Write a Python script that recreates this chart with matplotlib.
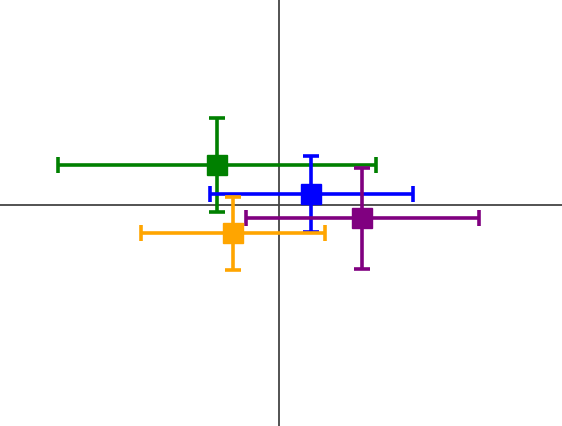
import matplotlib
matplotlib.use('Agg')
import matplotlib.pyplot as plt

# Point positions and symmetric errors (arbitrary units, origin at axis crossing)
colors = ['green', 'blue', 'purple', 'orange']
x_vals = [-0.615, 0.325, 0.835, -0.455]
y_vals = [0.395, 0.105, -0.135, -0.285]
x_err = [1.59, 1.015, 1.165, 0.92]
y_err = [0.47, 0.38, 0.505, 0.365]

fig = plt.figure(figsize=(5.62, 4.26), dpi=100)
ax = fig.add_axes([0, 0, 1, 1])

ax.axhline(0, color='#444444', linewidth=1.3, zorder=1)
ax.axvline(0, color='#444444', linewidth=1.3, zorder=1)

for x, y, xe, ye, c in zip(x_vals, y_vals, x_err, y_err, colors):
    ax.errorbar(x, y, xerr=xe, yerr=ye, fmt='s', color=c, ecolor=c,
                markersize=14, elinewidth=2.6, capsize=6, capthick=2.6, zorder=2)

ax.set_xlim(-2.785, 2.835)
ax.set_ylim(-2.215, 2.045)
ax.axis('off')

fig.savefig('out.png', dpi=100)
